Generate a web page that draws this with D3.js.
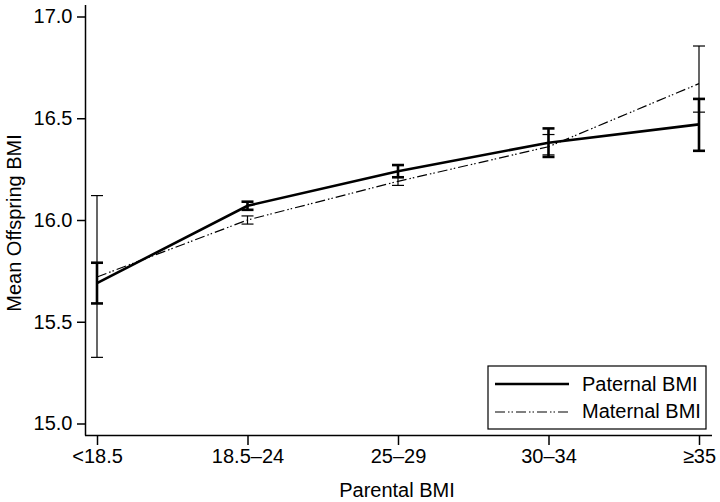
<!DOCTYPE html>
<html><head><meta charset="utf-8">
<script src="https://cdn.jsdelivr.net/npm/d3@7"></script>
<style>body{margin:0;background:#fff}svg{display:block;font-family:"Liberation Sans",Arial,sans-serif}</style>
</head><body><svg id="c" width="720" height="502"></svg>
<script>
const categories = ["<18.5","18.5–24","25–29","30–34","≥35"];
const paternalMean = [15.69, 16.07, 16.24, 16.38, 16.47];
const paternalLow  = [15.59, 16.05, 16.21, 16.31, 16.34];
const paternalHigh = [15.79, 16.09, 16.27, 16.45, 16.595];
const maternalMean = [15.72, 16.00, 16.19, 16.36, 16.67];
const maternalLow  = [15.325, 15.98, 16.17, 16.32, 16.53];
const maternalHigh = [16.12, 16.02, 16.21, 16.42, 16.855];
const yTicks = [15.0, 15.5, 16.0, 16.5, 17.0];

const FS = 20;
const svg = d3.select("#c");
const x = d3.scalePoint().domain(categories).range([97, 699]);
const y = d3.scaleLinear().domain([15, 17]).range([423.5, 16.5]);

// axes
const yAx = svg.append("g").attr("transform","translate(85,0)")
  .call(d3.axisLeft(y).tickValues(yTicks).tickFormat(d3.format(".1f")).tickSize(8).tickSizeOuter(0));
yAx.select(".domain").attr("d","M0.5,5V435.5");
const xAx = svg.append("g").attr("transform","translate(0,435)")
  .call(d3.axisBottom(x).tickSize(10).tickSizeOuter(0));
xAx.select(".domain").attr("d","M85,0.5H712");
svg.selectAll(".tick text").attr("font-size",FS).attr("fill","#000").attr("font-family","Liberation Sans, Arial, sans-serif");
yAx.selectAll(".tick text").attr("x",-12.5);
xAx.selectAll(".tick text").attr("y",14);
svg.selectAll(".domain, .tick line").attr("stroke","#000").attr("stroke-width",1.5);

svg.append("text").attr("x",397).attr("y",497).attr("text-anchor","middle").attr("font-size",FS).text("Parental BMI");
svg.append("text").attr("transform","translate(21,223) rotate(-90)").attr("text-anchor","middle").attr("font-size",FS).text("Mean Offspring BMI");

const dash = "10,3,1.5,2,1.5,3";
function series(mean, lo, hi, sw, da){
  const line = d3.line().x((d,i)=>x(categories[i])).y(d=>y(d));
  svg.append("path").datum(mean).attr("d",line).attr("fill","none").attr("stroke","#000")
    .attr("stroke-width",sw).attr("stroke-dasharray",da);
  const g = svg.append("g").attr("stroke","#000").attr("stroke-width",sw);
  categories.forEach((c,i)=>{
    const cx = x(c);
    g.append("line").attr("x1",cx).attr("x2",cx).attr("y1",y(lo[i])).attr("y2",y(hi[i]));
    g.append("line").attr("x1",cx-6).attr("x2",cx+6).attr("y1",y(lo[i])).attr("y2",y(lo[i]));
    g.append("line").attr("x1",cx-6).attr("x2",cx+6).attr("y1",y(hi[i])).attr("y2",y(hi[i]));
  });
}
series(maternalMean, maternalLow, maternalHigh, 1.2, dash);
series(paternalMean, paternalLow, paternalHigh, 2.6, null);

// legend
const lg = svg.append("g");
lg.append("rect").attr("x",488).attr("y",366).attr("width",218).attr("height",63).attr("fill","#fff").attr("stroke","#000").attr("stroke-width",1.2);
lg.append("line").attr("x1",495).attr("x2",569).attr("y1",384).attr("y2",384).attr("stroke","#000").attr("stroke-width",2.6);
lg.append("line").attr("x1",495).attr("x2",569).attr("y1",412).attr("y2",412).attr("stroke","#000").attr("stroke-width",1.2).attr("stroke-dasharray",dash);
lg.append("text").attr("x",582).attr("y",391).attr("font-size",FS).text("Paternal BMI");
lg.append("text").attr("x",582).attr("y",418).attr("font-size",FS).text("Maternal BMI");
</script></body></html>
